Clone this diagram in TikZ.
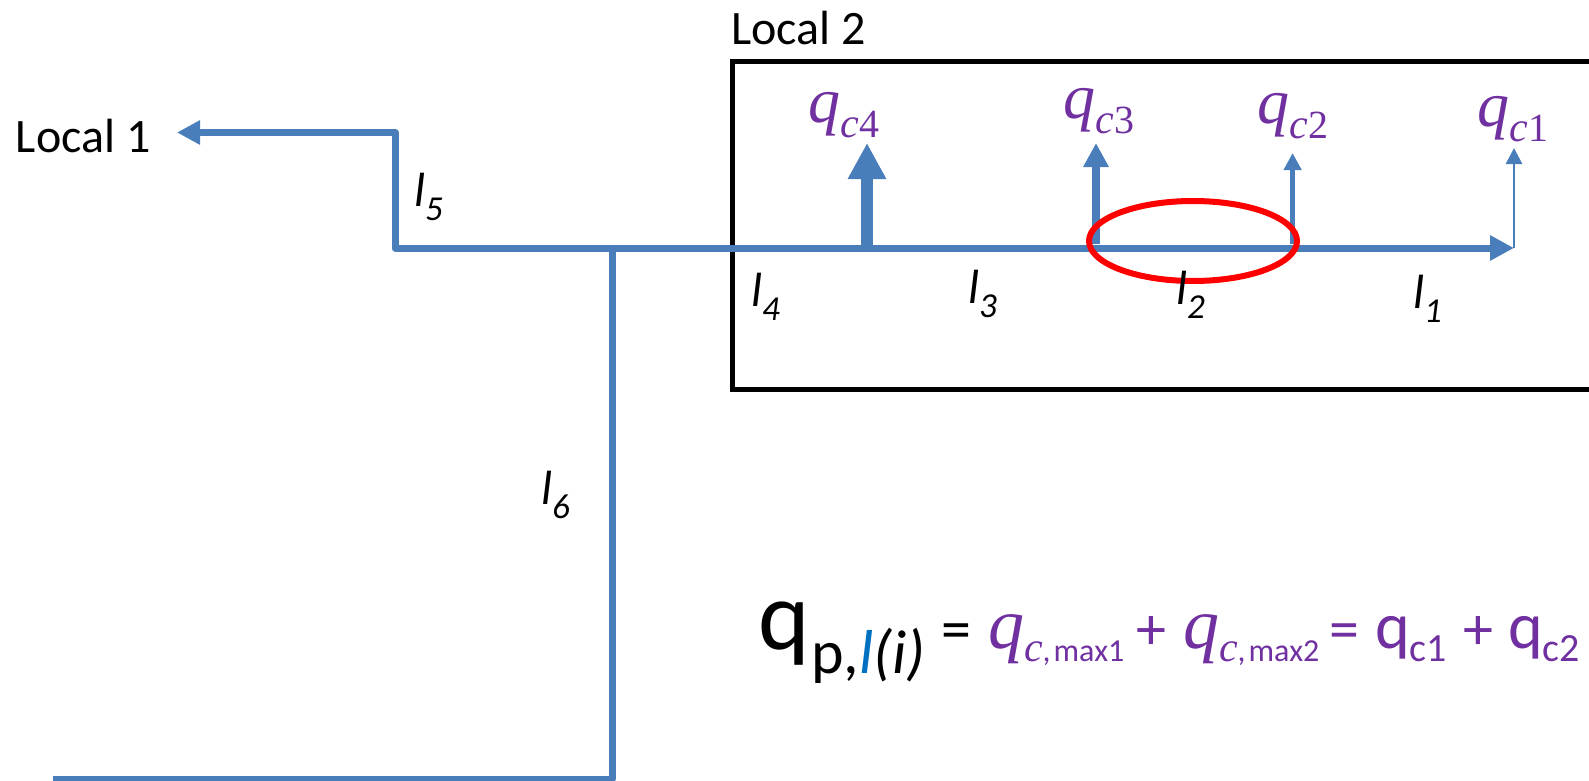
\documentclass[tikz,border=0pt]{standalone}
\usepackage{fontspec}
\setmainfont{Carlito}
\newfontfamily\qserif{Liberation Serif}
\usetikzlibrary{arrows.meta,shapes.geometric}
\definecolor{pipeblue}{HTML}{4A7EBB}
\definecolor{lblue}{HTML}{0070C0}
\definecolor{qpurple}{HTML}{7030A0}
\newcommand{\fs}[1]{\fontsize{#1}{#1}\selectfont}
\newcommand{\qit}[1][64]{{\qserif\itshape\fs{#1}q}}
\newcommand{\qcsub}[1]{\raisebox{-15pt}{\qserif\itshape\fs{42}c\kern1pt\upshape\fs{40}#1}}
\newcommand{\qmax}[1]{\qit[72]\raisebox{-13pt}{\qserif\itshape\fs{42}c}\raisebox{-13pt}{\fs{32},\kern3pt max#1}}
\newcommand{\qup}[1]{\fs{66}q\raisebox{-13pt}{\fs{40}#1}}
\newcommand{\llab}[1]{{\itshape\fs{48}l\raisebox{-14pt}{\fs{35}#1}}}
\tikzset{
  txt/.style={inner sep=0pt,outer sep=0pt,anchor=base west},
  pipe/.style={draw=pipeblue,line width=7pt,line join=round},
  purple/.style={txt,text=qpurple},
}
\begin{document}
\begin{tikzpicture}[x=1pt,y=-1pt]
\useasboundingbox (0,0) rectangle (1589,781);
% Local 2 box
\coordinate (bl) at (732,389);
\coordinate (tl) at (732,62);
\coordinate (tr) at (1592,62);
\coordinate (br) at (1592,389);
\draw[line width=5pt,black,line join=miter] (tr) -- (tl) -- (bl) -- (br);
% coordinates
\coordinate (w1) at (177,132.5);
\coordinate (w2) at (395,132.5);
\coordinate (w3) at (395,248);
\coordinate (j6) at (612.5,248);
\coordinate (end) at (1514,248);
\coordinate (b6) at (612.5,779);
\coordinate (e6) at (53,779);
\coordinate (c4b) at (867,248);
\coordinate (c4t) at (867,143);
\coordinate (c3b) at (1096,244);
\coordinate (c3t) at (1096,143);
\coordinate (c2b) at (1292.6,244);
\coordinate (c2t) at (1292.6,153);
\coordinate (c1b) at (1514,248);
\coordinate (c1t) at (1514,148);
% pipes
\draw[pipe,{Triangle[length=23pt,width=23pt]}-{Triangle[length=24pt,width=24pt]}] (w1) -- (w2) -- (w3) -- (j6) -- (end);
\draw[pipe,line width=6.5pt] (j6) -- (b6) -- (e6);
\draw[draw=pipeblue,line width=12pt,-{Triangle[length=36pt,width=36pt]}] (c4b) -- (c4t);
\draw[draw=pipeblue,line width=8pt,-{Triangle[length=24pt,width=24pt]}] (c3b) -- (c3t);
\draw[draw=pipeblue,line width=5.5pt,-{Triangle[length=17pt,width=17pt]}] (c2b) -- (c2t);
\draw[draw=pipeblue,line width=2.8pt,-{Triangle[length=16pt,width=16pt]}] (c1b) -- (c1t);
% red ellipse
\node[draw=red,line width=6pt,ellipse,minimum width=208pt,minimum height=80pt,inner sep=0pt,outer sep=0pt] (ring) at (1193,241) {};
% labels
\node[txt] (local1) at (16,152) {\fs{48}Local 1};
\node[txt] (local2) at (731,45) {\fs{48}Local 2};
\node[purple] (q4) at (808,122) {\qit\qcsub{4}};
\node[purple] (q3) at (1063,118) {\qit\qcsub{3}};
\node[purple] (q2) at (1257,124) {\qit\qcsub{2}};
\node[purple] (q1) at (1477,126) {\qit\qcsub{1}};
\node[txt] (l4) at (751,306) {\llab{4}};
\node[txt] (l3) at (968,303) {\llab{3}};
\node[txt] (l2) at (1176,304) {\llab{2}};
\node[txt] (l1) at (1413,308) {\llab{1}};
\node[txt] (l5) at (414,206) {\llab{5}};
\node[txt] (l6) at (541,504) {\llab{6}};
% formula
\node[txt] (fq) at (758,649) {\fs{98}q};
\node[txt] (fp) at (811,673) {\fs{62}p,\textcolor{lblue}{\itshape l}{\itshape (i)}};
\node[txt] (feq1) at (941,649) {\fs{60}=};
\node[purple] (fq1) at (988,648) {\qmax{1}};
\node[purple] (fplus1) at (1136,649) {\fs{60}+};
\node[purple] (fq2) at (1183,648) {\qmax{2}};
\node[purple] (feq2) at (1329,649) {\fs{60}=};
\node[purple] (fq3) at (1375,648) {\qup{c1}};
\node[purple] (fplus2) at (1463,649) {\fs{60}+};
\node[purple] (fq4) at (1508,648) {\qup{c2}};
\end{tikzpicture}
\end{document}
